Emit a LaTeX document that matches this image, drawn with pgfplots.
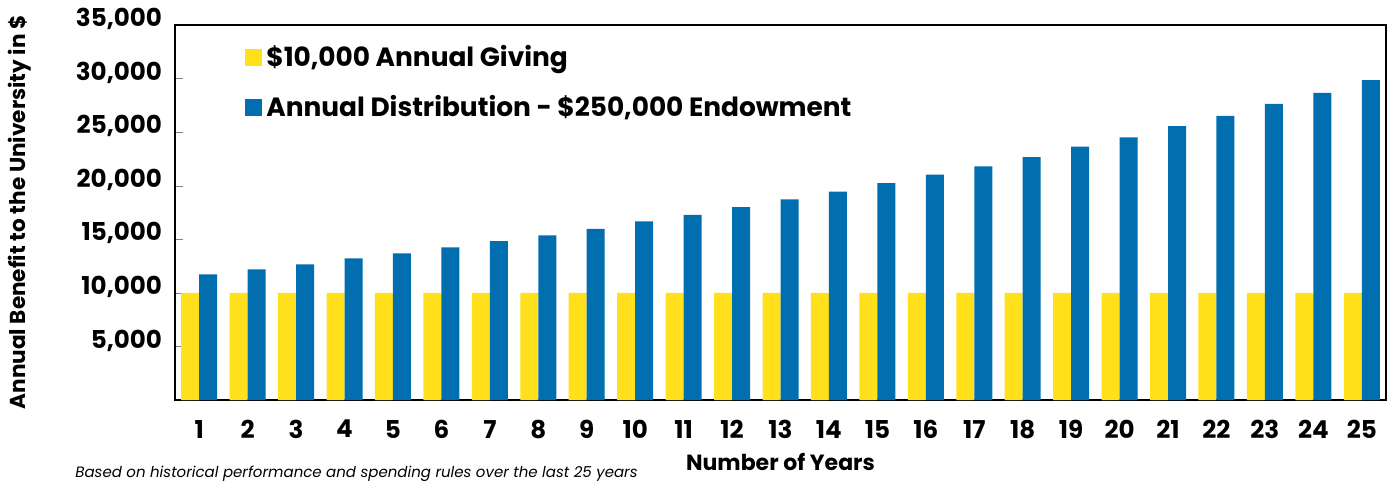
\documentclass[border=0pt]{standalone}
\usepackage{pgfplots}
\pgfplotsset{compat=1.18}
\usepackage{fontspec}
\setmainfont{Poppins}
\definecolor{gold}{HTML}{FFE01B}
\definecolor{uniblue}{HTML}{006EAF}

\begin{document}
\begin{tikzpicture}
\useasboundingbox (-87.5pt,-40.5pt) rectangle (607.5pt,200pt);
\begin{axis}[
    scale only axis,
    width=605.5pt, height=187.5pt,
    ybar=0pt, bar width=9pt,
    xmin=0.5, xmax=25.5,
    ymin=0, ymax=35000,
    xtick=data,
    ytick={5000,10000,...,35000},
    ytick pos=left,
    major tick length=4pt,
    xtick style={draw=none},
    scaled y ticks=false,
    axis line style={line width=0.8pt},
    /pgf/number format/1000 sep={,},
    /pgf/number format/assume math mode=true,
    tick label style={font=\bfseries\fontsize{12.3}{14}\selectfont},
    yticklabel style={yshift=3pt, xshift=-3pt},
    xticklabel style={yshift=-2.5pt},
    xlabel={Number of Years},
    xlabel style={at={([yshift=-31pt]axis description cs:0.5,0)}, anchor=center, font=\bfseries\fontsize{11}{13}\selectfont},
    ylabel={Annual Benefit to the University in \$},
    ylabel style={at={([xshift=-77.5pt]axis description cs:0,0.5)}, anchor=center, font=\bfseries\fontsize{10.8}{12}\selectfont},
    legend style={at={(0,1)}, anchor=north west, xshift=35pt, yshift=-8pt,
        draw=none, fill=none, inner sep=0pt, row sep=9pt,
        font=\bfseries\fontsize{13.2}{15}\selectfont},
    legend cell align=left,
    legend image code/.code={\fill[#1] (0pt,-4.25pt) rectangle (8.5pt,4.25pt);},
]
\addplot[fill=gold, draw=none] coordinates {
    (1,10000)(2,10000)(3,10000)(4,10000)(5,10000)
    (6,10000)(7,10000)(8,10000)(9,10000)(10,10000)
    (11,10000)(12,10000)(13,10000)(14,10000)(15,10000)
    (16,10000)(17,10000)(18,10000)(19,10000)(20,10000)
    (21,10000)(22,10000)(23,10000)(24,10000)(25,10000)
};
\addlegendentry{\$10,000 Annual Giving}
\addplot[fill=uniblue, draw=none] coordinates {
    (1,11720)(2,12190)(3,12650)(4,13210)(5,13680)
    (6,14240)(7,14830)(8,15360)(9,15980)(10,16670)
    (11,17290)(12,18010)(13,18730)(14,19440)(15,20250)
    (16,21030)(17,21810)(18,22680)(19,23650)(20,24520)
    (21,25550)(22,26510)(23,27630)(24,28660)(25,29850)
};
\addlegendentry{Annual Distribution - \$250,000 Endowment}
\end{axis}
\node[anchor=base west, inner sep=0pt, font=\itshape\fontsize{7.5}{9}\selectfont]
    at ([xshift=-50pt,yshift=-38.5pt]current axis.south west)
    {Based on historical performance and spending rules over the last 25 years};
\end{tikzpicture}
\end{document}
